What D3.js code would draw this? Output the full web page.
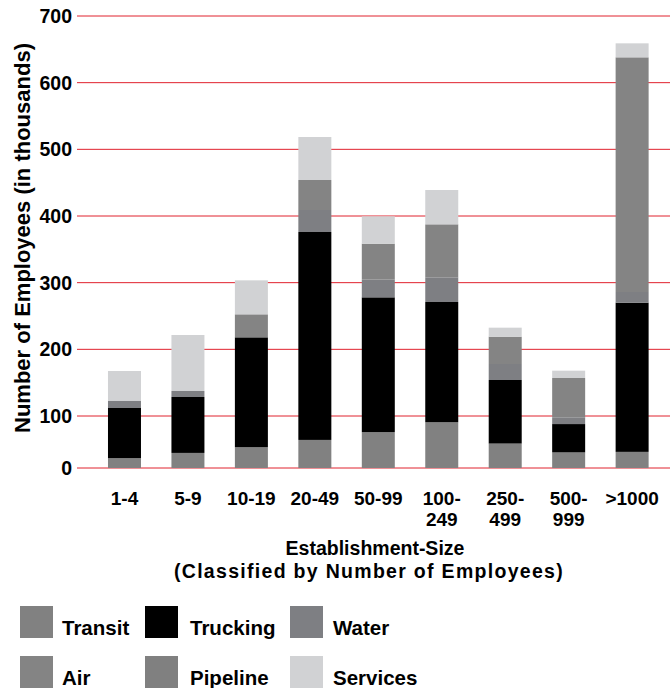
<!DOCTYPE html>
<html>
<head>
<meta charset="utf-8">
<script src="https://cdn.jsdelivr.net/npm/d3@7"></script>
<style>
  html, body { margin: 0; padding: 0; background: #fff; }
  text { font-family: "Liberation Sans", Arial, Helvetica, sans-serif; font-weight: bold; fill: #000; }
</style>
</head>
<body>
<svg id="chart" width="670" height="688"></svg>
<script>
// Establishment-size classes and their two-line axis labels
const categories = ["1-4", "5-9", "10-19", "20-49", "50-99", "100-249", "250-499", "500-999", ">1000"];
const tickLabels = [["1-4"], ["5-9"], ["10-19"], ["20-49"], ["50-99"], ["100-", "249"], ["250-", "499"], ["500-", "999"], [">1000"]];

// Employees by mode (thousands), stacked bottom to top
const seriesNames = ["Transit", "Trucking", "Water", "Air", "Pipeline", "Services"];
const transit  = [19, 29, 40, 54, 69, 88, 47, 30, 31];
const trucking = [93, 99.5, 178, 322, 209, 183, 107, 54.5, 239];
const water    = [10.5, 9, 0, 33, 26.5, 37, 24, 13, 16];
const air      = [0, 0, 34.5, 45, 54, 79.5, 41, 59.5, 352];
const pipeline = [0, 0, 0, 0, 0, 0, 0, 0, 0];
const services = [45, 84, 51, 64.5, 41, 51.5, 13.5, 11, 21];

const yTicks = [0, 100, 200, 300, 400, 500, 600, 700];
const colors = ["#818181", "#000000", "#7e7f83", "#848484", "#808080", "#d1d2d4"];

const svg = d3.select("#chart");

// rows for the stack
const seriesValues = [transit, trucking, water, air, pipeline, services];
const rows = categories.map((c, i) => {
  const r = { cat: c };
  seriesNames.forEach((s, k) => { r[s] = seriesValues[k][i]; });
  return r;
});
const stacked = d3.stack().keys(seriesNames)(rows);

const x = d3.scaleBand()
  .domain(categories)
  .range([82.6, 674])
  .paddingInner(0.48)
  .paddingOuter(0.4);

// the axis floor sits closer to the 100 line than the other intervals
const y = d3.scaleLinear()
  .domain([0, 100, 700])
  .range([468, 416, 16]);

// horizontal grid lines
svg.append("g")
  .selectAll("line")
  .data(yTicks)
  .join("line")
  .attr("x1", 77)
  .attr("x2", 670)
  .attr("y1", d => y(d))
  .attr("y2", d => y(d))
  .attr("stroke", "#e0222e")
  .attr("stroke-width", 1);

// y tick labels
svg.append("g")
  .selectAll("text")
  .data(yTicks)
  .join("text")
  .attr("x", 72)
  .attr("y", d => y(d))
  .attr("dy", "0.36em")
  .attr("text-anchor", "end")
  .attr("font-size", 19.5)
  .text(d => d);

// stacked bars
svg.append("g")
  .selectAll("g")
  .data(stacked)
  .join("g")
  .attr("fill", (d, i) => colors[i])
  .selectAll("rect")
  .data(d => d)
  .join("rect")
  .attr("x", d => x(d.data.cat))
  .attr("width", x.bandwidth())
  .attr("y", d => y(d[1]))
  .attr("height", d => Math.max(0, y(d[0]) - y(d[1])));

// x tick labels
const xl = svg.append("g")
  .selectAll("text")
  .data(categories)
  .join("text")
  .attr("x", d => x(d) + x.bandwidth() / 2)
  .attr("y", 505)
  .attr("text-anchor", "middle")
  .attr("font-size", 19);
xl.each(function (d, i) {
  const t = d3.select(this);
  tickLabels[i].forEach((line, j) => {
    t.append("tspan")
      .attr("x", x(d) + x.bandwidth() / 2)
      .attr("dy", j === 0 ? 0 : 20.5)
      .text(line);
  });
});

// x axis title
svg.append("text")
  .attr("x", 375)
  .attr("y", 555)
  .attr("text-anchor", "middle")
  .attr("font-size", 19.5)
  .text("Establishment-Size");
svg.append("text")
  .attr("x", 369)
  .attr("y", 578)
  .attr("text-anchor", "middle")
  .attr("font-size", 19.5)
  .attr("letter-spacing", 1.3)
  .text("(Classified by Number of Employees)");

// y axis title
svg.append("text")
  .attr("transform", "translate(30,238) rotate(-90)")
  .attr("text-anchor", "middle")
  .attr("font-size", 22)
  .text("Number of Employees (in thousands)");

// legend, three columns by two rows
const legendCols = [20, 145, 290];
const legendTextX = [62, 190, 333];
const legendRows = [606, 656];
const legend = svg.append("g")
  .selectAll("g")
  .data(seriesNames)
  .join("g");
legend.append("rect")
  .attr("x", (d, i) => legendCols[i % 3])
  .attr("y", (d, i) => legendRows[Math.floor(i / 3)])
  .attr("width", 33)
  .attr("height", 32)
  .attr("fill", (d, i) => colors[i]);
legend.append("text")
  .attr("x", (d, i) => legendTextX[i % 3])
  .attr("y", (d, i) => legendRows[Math.floor(i / 3)] + 29)
  .attr("font-size", 20.5)
  .text(d => d);
</script>
</body>
</html>
